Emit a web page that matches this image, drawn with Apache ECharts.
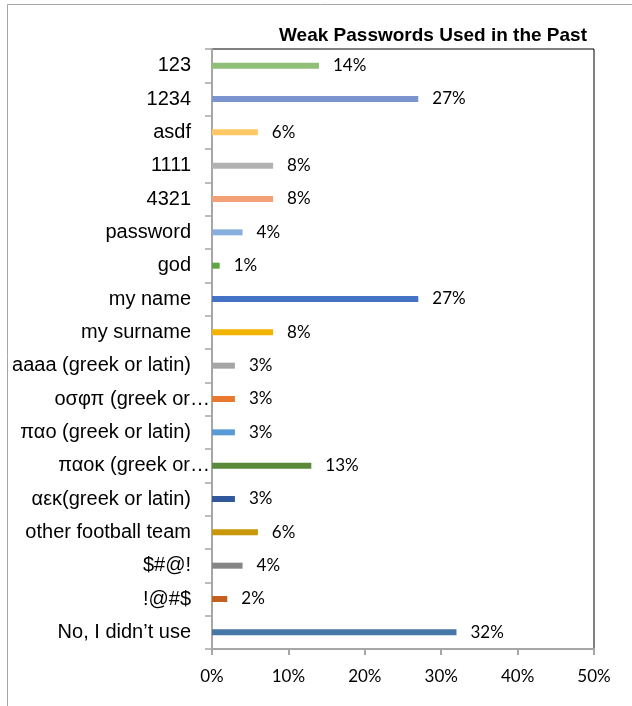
<!DOCTYPE html>
<html>
<head>
<meta charset="utf-8">
<script src="https://cdn.jsdelivr.net/npm/echarts@6/dist/echarts.min.js"></script>
<style>
  html, body { margin: 0; padding: 0; background: #fff; }
  #chart { width: 632px; height: 706px; }
</style>
</head>
<body>
<div id="chart"></div>
<script>
// Weak passwords used in the past (share of respondents, %)
const categories = [
  '123', '1234', 'asdf', '1111', '4321', 'password', 'god', 'my name',
  'my surname', 'aaaa (greek or latin)', 'οσφπ (greek or…', 'παο (greek or latin)',
  'παοκ (greek or…', 'αεκ(greek or latin)', 'other football team', '$#@!', '!@#$',
  'No, I didn’t use'
];
const values = [14, 27, 6, 8, 8, 4, 1, 27, 8, 3, 3, 3, 13, 3, 6, 4, 2, 32];
const barColors = [
  '#90bf77', '#7c94cf', '#ffc864', '#b2b2b2', '#f4a077', '#87aedc', '#5fa544', '#4472c4',
  '#f2b400', '#a5a5a5', '#e8792f', '#5b9bd5', '#5b8a3a', '#31589c', '#c8980a', '#858585',
  '#c4601f', '#4877a7'
];
// Labels that Excel cut short run a little past the normal label edge
const truncated = new Set(['οσφπ (greek or…', 'παοκ (greek or…']);
const xTicks = [0, 10, 20, 30, 40, 50];

const chart = echarts.init(document.getElementById('chart'), null, { renderer: 'canvas' });

chart.setOption({
  animation: false,
  backgroundColor: '#fff',
  title: {
    text: 'Weak Passwords Used in the Past',
    right: 40,
    top: 21,
    textStyle: {
      fontFamily: '"Liberation Sans", Arial, sans-serif',
      fontWeight: 'bold',
      fontSize: 19,
      color: '#000'
    }
  },
  graphic: [{
    type: 'rect',
    shape: { x: 7.5, y: 4.5, width: 700, height: 800 },
    style: { fill: 'none', stroke: '#a6a6a6', lineWidth: 1 },
    silent: true,
    z: -10
  }],
  grid: {
    left: 212,
    right: 38,
    top: 49,
    bottom: 57,
    show: true,
    borderColor: '#000',
    borderWidth: 1,
    backgroundColor: 'transparent'
  },
  xAxis: {
    type: 'value',
    min: xTicks[0],
    max: xTicks[xTicks.length - 1],
    interval: 10,
    splitLine: { show: false },
    axisLine: { show: true, lineStyle: { color: '#a6a6a6', width: 2 } },
    axisTick: { show: true, length: 6, lineStyle: { color: '#a6a6a6', width: 2 } },
    axisLabel: {
      margin: 19,
      formatter: v => v + '%',
      fontFamily: 'Lato, "Open Sans", sans-serif',
      fontSize: 17,
      color: '#000'
    }
  },
  yAxis: {
    type: 'category',
    inverse: true,
    data: categories.map(c => truncated.has(c)
      ? { value: c, textStyle: { padding: [0, -19, 0, 0] } }
      : c),
    axisLine: { show: true, lineStyle: { color: '#a6a6a6', width: 2 } },
    axisTick: { show: true, length: 7, lineStyle: { color: '#a6a6a6', width: 1.5 } },
    axisLabel: {
      margin: 21,
      interval: 0,
      fontFamily: '"Liberation Sans", Arial, sans-serif',
      fontSize: 20,
      color: '#000'
    }
  },
  series: [{
    type: 'bar',
    barWidth: 6,
    data: values.map((v, i) => ({ value: v, itemStyle: { color: barColors[i] } })),
    label: {
      show: true,
      position: 'right',
      distance: 14,
      formatter: p => p.value + '%',
      fontFamily: 'Lato, "Open Sans", sans-serif',
      fontSize: 17,
      color: '#000'
    }
  }]
});
</script>
</body>
</html>
